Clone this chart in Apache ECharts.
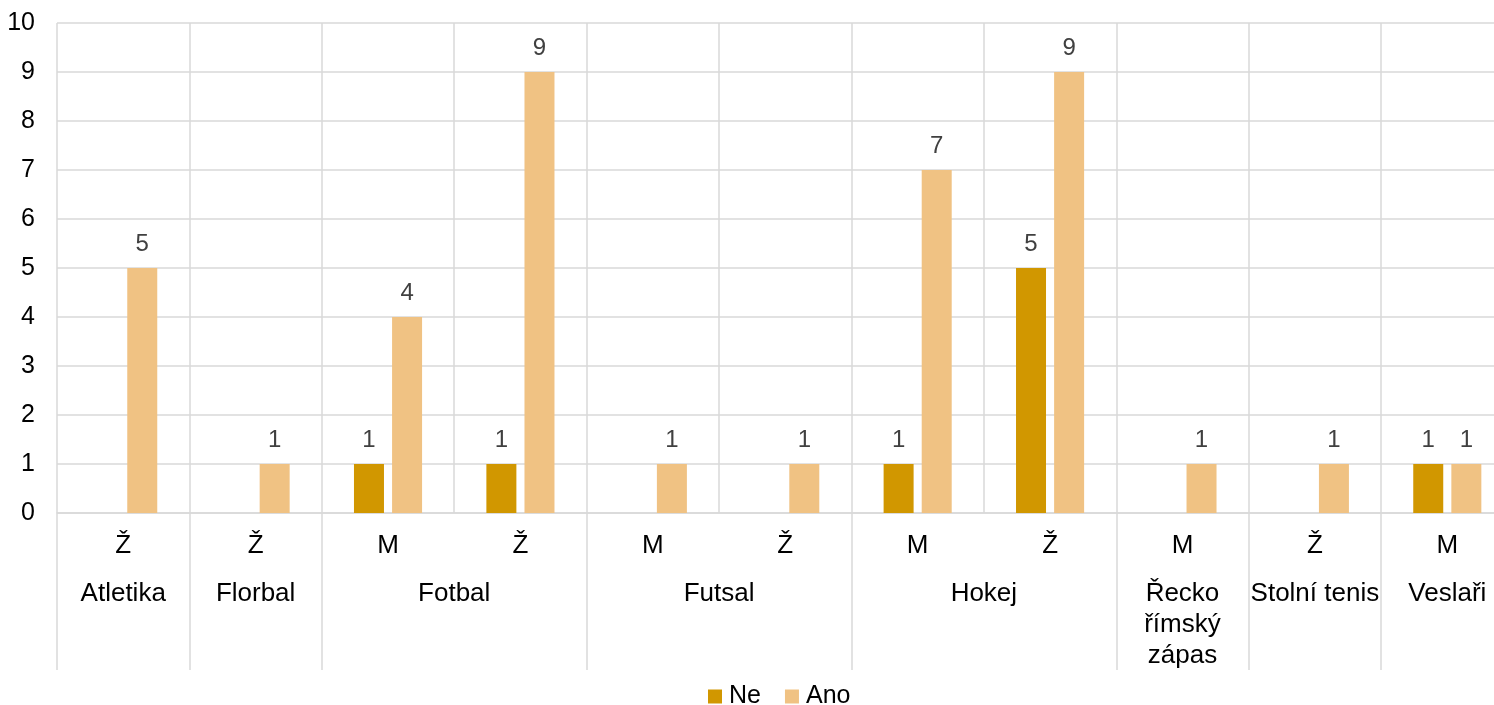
<!DOCTYPE html>
<html>
<head>
<meta charset="utf-8">
<script src="https://cdn.jsdelivr.net/npm/echarts@6/dist/echarts.min.js"></script>
<style>
  html, body { margin: 0; padding: 0; background: #fff; }
  #chart { width: 1494px; height: 705px; }
</style>
</head>
<body>
<div id="chart"></div>
<script>
// ---- Data ----
const subCategories = ['Ž', 'Ž', 'M', 'Ž', 'M', 'Ž', 'M', 'Ž', 'M', 'Ž', 'M'];
const groupNames = ['Atletika', 'Florbal', 'Fotbal', 'Futsal', 'Hokej', 'Řecko\nřímský\nzápas', 'Stolní tenis', 'Veslaři'];
const groupSpans = [1, 1, 2, 2, 2, 1, 1, 1];
const seriesNames = ['Ne', 'Ano'];
const neValues  = [0, 0, 1, 1, 0, 0, 1, 5, 0, 0, 1];
const anoValues = [5, 1, 4, 9, 1, 1, 7, 9, 1, 1, 1];
const yTicks = [0, 1, 2, 3, 4, 5, 6, 7, 8, 9, 10];

// group boundaries and centres (in category units)
const groupBounds = [0];
groupSpans.forEach(s => groupBounds.push(groupBounds[groupBounds.length - 1] + s));
const groupCenters = groupSpans.map((s, i) => groupBounds[i] + s / 2);

const FONT = '"Liberation Sans", Arial, sans-serif';
const GRID_COLOR = '#D9D9D9';

const chart = echarts.init(document.getElementById('chart'), null, { renderer: 'canvas' });

const option = {
  backgroundColor: '#ffffff',
  animation: false,
  textStyle: { fontFamily: FONT },
  grid: {
    left: 57, right: -19.5, top: 23, bottom: 192,
    containLabel: false,
    outerBoundsMode: 'none'
  },
  legend: {
    data: seriesNames,
    left: 708,
    top: 684,
    padding: 0,
    icon: 'rect',
    itemWidth: 14,
    itemHeight: 14,
    itemGap: 24,
    textStyle: { fontFamily: FONT, fontSize: 25, color: '#000', padding: [0, 0, 0, 2] }
  },
  xAxis: [
    {
      type: 'category',
      data: subCategories,
      boundaryGap: true,
      position: 'bottom',
      axisLine: { show: true, lineStyle: { color: GRID_COLOR, width: 1.5 } },
      axisTick: { show: false },
      axisLabel: {
        interval: 0,
        margin: 20,
        fontFamily: FONT,
        fontSize: 26,
        color: '#000'
      },
      splitLine: {
        show: true,
        interval: 0,
        lineStyle: { color: GRID_COLOR, width: 1.5 }
      }
    },
    {
      type: 'value',
      min: 0,
      max: subCategories.length,
      position: 'bottom',
      axisLine: { show: false, onZero: false },
      splitLine: { show: false },
      axisTick: {
        show: true,
        length: 157,
        customValues: groupBounds,
        lineStyle: { color: GRID_COLOR, width: 1.5 }
      },
      axisLabel: {
        show: true,
        customValues: groupCenters,
        margin: 65,
        fontFamily: FONT,
        fontSize: 26,
        lineHeight: 31,
        color: '#000',
        align: 'center',
        formatter: function (v) {
          const i = groupCenters.findIndex(c => Math.abs(c - v) < 1e-6);
          return i >= 0 ? groupNames[i] : '';
        }
      }
    }
  ],
  yAxis: {
    type: 'value',
    min: yTicks[0],
    max: yTicks[yTicks.length - 1],
    interval: 1,
    axisLine: { show: false, onZero: false },
    axisTick: { show: false },
    axisLabel: {
      margin: 22,
      fontFamily: FONT,
      fontSize: 25,
      color: '#000'
    },
    splitLine: { show: true, lineStyle: { color: GRID_COLOR, width: 1.5 } }
  },
  series: [
    {
      name: seriesNames[0],
      type: 'bar',
      data: neValues,
      barWidth: 30,
      barGap: '27%',
      itemStyle: { color: '#D19700' },
      label: {
        show: true,
        position: 'top',
        distance: 12,
        fontFamily: FONT,
        fontSize: 24,
        color: '#404040',
        formatter: p => (p.value ? String(p.value) : '')
      }
    },
    {
      name: seriesNames[1],
      type: 'bar',
      data: anoValues,
      barWidth: 30,
      barGap: '27%',
      itemStyle: { color: '#F0C283' },
      label: {
        show: true,
        position: 'top',
        distance: 12,
        fontFamily: FONT,
        fontSize: 24,
        color: '#404040',
        formatter: p => (p.value ? String(p.value) : '')
      }
    }
  ]
};

chart.setOption(option);
</script>
</body>
</html>
